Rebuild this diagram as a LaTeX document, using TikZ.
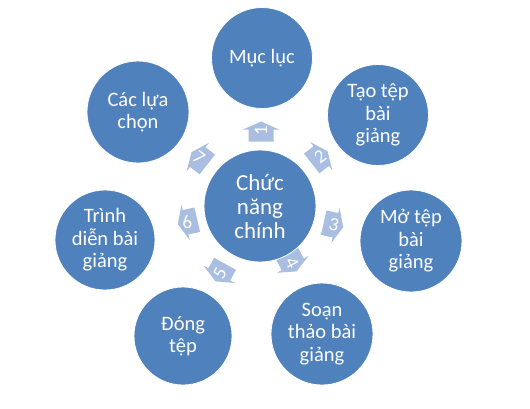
\documentclass[tikz,border=0pt]{standalone}
\usepackage{fontspec}
\setmainfont{Carlito}
\definecolor{circblue}{HTML}{4F81BD}
\definecolor{arrblue}{HTML}{A9BEE0}
\tikzset{
  circ/.style={circle, fill=circblue, draw=white, line width=0.8pt, text=white, align=center, inner sep=0pt,
    font=\fontsize{20.5}{22.5}\selectfont},
  hub/.style={circ, font=\fontsize{23}{24}\selectfont},
  arrshape/.style={fill=arrblue},
  numtext/.style={text=white, inner sep=0pt, font=\fontsize{19}{20}\selectfont},
}
\newcommand\myarrow[6]{%
  \fill[arrshape, shift={(#1,#2)}, rotate=#3]
    (-10.5,-12.5) -- (1.5,-12.5) -- (1.5,-18) -- (9.5,0) -- (1.5,18) -- (1.5,12.5) -- (-10.5,12.5) -- cycle;
  \node[numtext, rotate=#5] (#6) at (#1,#2) {#4};}
\begin{document}
\begin{tikzpicture}[x=1pt, y=-1pt]
\useasboundingbox (0,0) rectangle (530,408);
% arrows
\myarrow{261}{131}{90}{1}{90}{a1}
\myarrow{320}{157}{38}{2}{38}{a2}
\myarrow{334}{225}{-13}{3}{-13}{a3}
\myarrow{292}{263}{-62}{4}{-62}{a4}
\myarrow{220}{273}{-119}{5}{61}{a5}
\myarrow{187}{222}{-167}{6}{13}{a6}
\myarrow{199}{158}{142}{7}{-38}{a7}
% circles
\node[hub, minimum size=112pt] (hub) at (260,206) {Chức\\năng\\chính};
\node[circ, minimum size=101pt] (n1) at (262,58) {Mục lục};
\node[circ, minimum size=101pt] (n2) at (378,115) {Tạo tệp\\bài\\giảng};
\node[circ, minimum size=102pt] (n3) at (411,241) {Mở tệp\\bài\\giảng};
\node[circ, minimum size=102pt] (n4) at (322,334) {Soạn\\thảo bài\\giảng};
\node[circ, minimum size=98pt] (n5) at (183,336) {Đóng\\tệp};
\node[circ, minimum size=100pt] (n6) at (105,240) {Trình\\diễn bài\\giảng};
\node[circ, minimum size=102pt] (n7) at (138,112) {Các lựa\\chọn};
\end{tikzpicture}
\end{document}
